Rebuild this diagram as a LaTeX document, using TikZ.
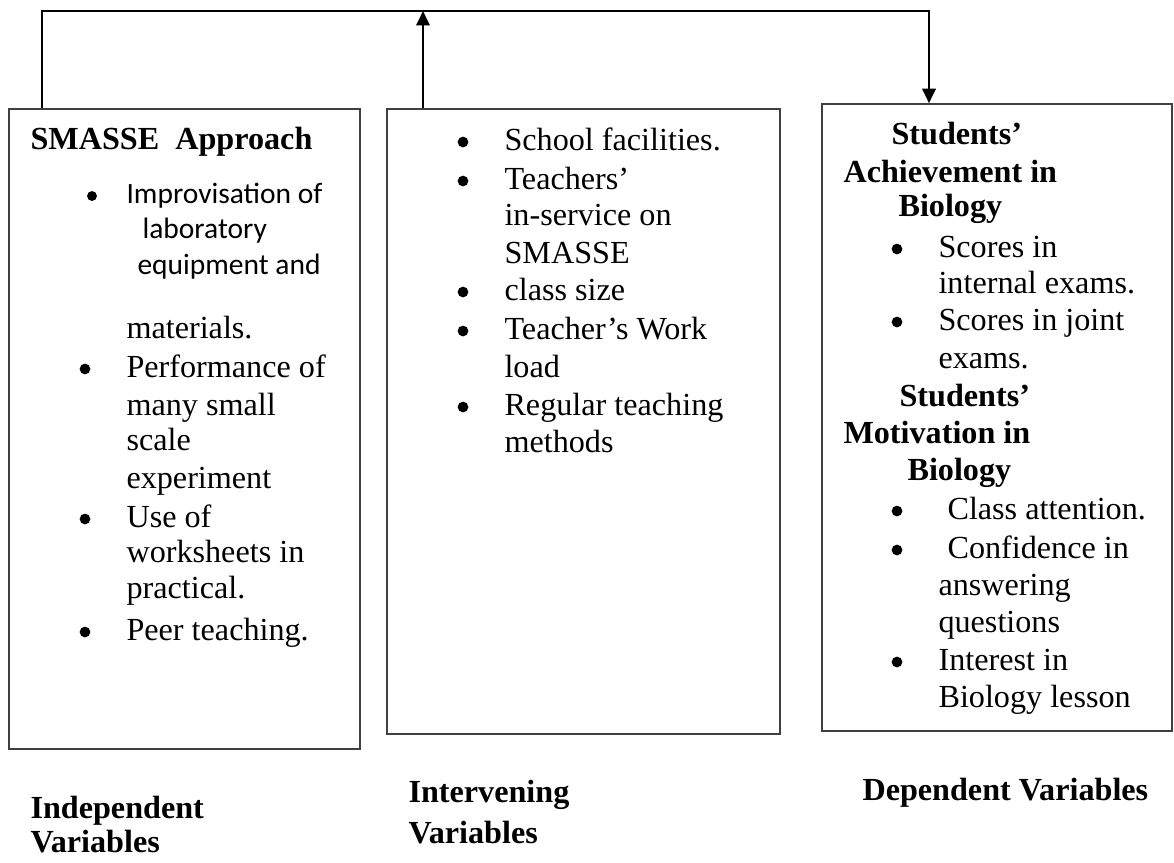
\documentclass[tikz,border=0pt]{standalone}
\usepackage{fontspec}
\setmainfont{Liberation Serif}
\newfontfamily\calibfont{Carlito}
\usetikzlibrary{arrows.meta,fit}

\tikzset{
    box/.style = {draw=black!75, line width=0.6pt, inner sep=0pt},
    link/.style = {draw=black, line width=0.8pt},
    tip/.style = {-{Triangle[length=5.4pt, width=5pt]}},
    txt/.style = {anchor=base west, inner sep=0pt, font=\fontsize{12}{14}\selectfont},
    sans/.style = {anchor=base west, inner sep=0pt, font=\calibfont\fontsize{11}{13}\selectfont},
    head/.style = {anchor=base west, inner sep=0pt, font=\bfseries\fontsize{12}{14}\selectfont},
    dot/.style = {circle, fill=black, inner sep=0pt, minimum size=4pt}
}

\begin{document}
\begin{tikzpicture}[x=0.373pt, y=-0.373pt]
    \useasboundingbox (0,0) rectangle (1174,862);

    \node[box, fit={(9,109) (360,749)}] (indep) {};
    \node[box, fit={(387,109) (780,734)}] (interv) {};
    \node[box, fit={(822,104) (1172,731)}] (dep) {};

    \coordinate (tl) at (42,11);
    \coordinate (mid) at (423,11);
    \coordinate (tr) at (929,11);
    \draw[link, tip] (indep.north -| tl) -- (tl) -- (tr) -- (dep.north -| tr);
    \draw[link, tip] (interv.north -| mid) -- (mid);

    % independent variables
    \node[head] (smasse) at (30,149) {SMASSE~~Approach};
    \node[dot, minimum size=3.7pt] (ib0) at (92,196) {};
    \foreach \x/\y/\t [count=\i] in {126/203/Improvisation of, 142/238/laboratory, 137/274/equipment and}
        \node[sans] (is\i) at (\x,\y) {\t};
    \foreach \y/\t [count=\i] in {338/materials., 377/Performance of, 415/many small, 450/scale,
        488/experiment, 527/Use of, 562/worksheets in, 598/practical., 640/Peer teaching.}
        \node[txt] (it\i) at (126,\y) {\t};
    \foreach \y [count=\i] in {377,527,640}
        \node[dot] (ib\i) at (85,{\y-8}) {};

    % intervening variables
    \foreach \y/\t [count=\i] in {150/School facilities., 189/Teachers’, 225/in-service on, 263/SMASSE,
        300/class size, 339/Teacher’s Work, 377/load, 415/Regular teaching, 452/methods}
        \node[txt] (vt\i) at (504,\y) {\t};
    \foreach \y [count=\i] in {150,189,300,339,415}
        \node[dot] (vb\i) at (463,{\y-8}) {};

    % dependent variables
    \foreach \x/\y/\t [count=\i] in {891/144/Students’, 843/182/Achievement in, 898/216/Biology,
        899/406/Students’, 843/443/Motivation in, 907/480/Biology}
        \node[head] (dh\i) at (\x,\y) {\t};
    \foreach \x/\y/\t [count=\i] in {938/257/Scores in, 938/293/internal exams., 938/330/Scores in joint,
        938/368/exams., 947/519/Class attention., 947/558/Confidence in, 938/595/answering,
        938/632/questions, 938/670/Interest in, 938/707/Biology lesson}
        \node[txt] (dt\i) at (\x,\y) {\t};
    \foreach \y [count=\i] in {257,330,519,558,670}
        \node[dot] (db\i) at (897,{\y-8}) {};

    % labels
    \node[head] (lab1a) at (30,818) {Independent};
    \node[head] (lab1b) at (30,852) {Variables};
    \node[head] (lab2a) at (408,802) {Intervening};
    \node[head] (lab2b) at (408,843) {Variables};
    \node[head] (lab3) at (862,800) {Dependent Variables};
\end{tikzpicture}
\end{document}
